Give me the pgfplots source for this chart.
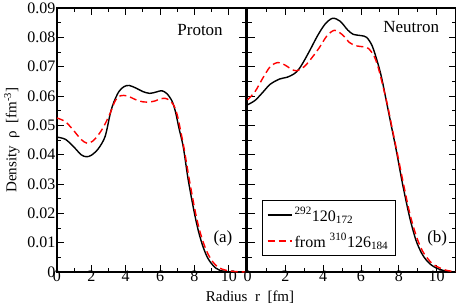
\documentclass[border=0pt]{standalone}
\usepackage{fontspec}
\setmainfont{Liberation Serif}
\usepackage{pgfplots}
\pgfplotsset{compat=1.18}
\begin{document}
\begin{tikzpicture}
\pgfplotsset{
  dens/.style={
    scale only axis, height=264pt,
    xmin=0, xmax=11, ymin=0, ymax=0.09,
    xtick={0,2,4,6,8,10}, minor x tick num=1,
    ytick={0,0.01,0.02,0.03,0.04,0.05,0.06,0.07,0.08,0.09},
    minor y tick num=1,
    tick align=inside, major tick length=7pt, minor tick length=4pt,
    axis line style={line width=1.3pt},
    every tick/.style={line width=0.9pt, black},
    tick label style={font=\fontsize{16}{16}\selectfont},
    /pgf/number format/assume math mode=true,
    xticklabel style={yshift=2pt, inner sep=1pt},
    yticklabel style={inner xsep=1.5pt, inner ysep=0pt},
    clip=false,
  },
  blk/.style={black, line width=1.4pt, smooth},
  rd/.style={red, line width=1.4pt, smooth, dash pattern=on 7pt off 4pt},
}
\begin{axis}[dens, at={(57pt,34pt)}, anchor=south west, width=189pt,
  yticklabels={0,0.01,0.02,0.03,0.04,0.05,0.06,0.07,0.08,0.09}]
\addplot[blk] coordinates {(0,0.0460)(0.5,0.0452)(1.0,0.0425)(1.4,0.0400)(1.7,0.0393)(2.0,0.0398)(2.4,0.0420)(2.8,0.0462)(3.1,0.0540)(3.3,0.0578)(3.6,0.0615)(3.9,0.0632)(4.2,0.0636)(4.6,0.0627)(5.0,0.0615)(5.4,0.0609)(5.8,0.0614)(6.1,0.0618)(6.4,0.0608)(6.7,0.0582)(6.9,0.0545)(7.1,0.0490)(7.35,0.0426)(7.64,0.0313)(8.0,0.0200)(8.25,0.0135)(8.5,0.0086)(8.75,0.0050)(9.0,0.0028)(9.25,0.0013)(9.5,0.0005)(10,0.0001)(10.5,0)(11,0)};
\addplot[rd] coordinates {(0,0.0525)(0.5,0.0512)(1.0,0.0480)(1.4,0.0452)(1.75,0.0439)(2.1,0.0447)(2.5,0.0475)(2.8,0.0505)(3.1,0.0542)(3.4,0.0585)(3.7,0.0601)(4.1,0.0600)(4.6,0.0587)(5.0,0.0580)(5.3,0.0579)(5.7,0.0583)(6.0,0.0590)(6.3,0.0592)(6.55,0.0585)(6.8,0.0568)(7.0,0.0535)(7.2,0.0480)(7.4,0.0420)(7.7,0.0315)(8.05,0.0205)(8.3,0.0142)(8.55,0.0095)(8.8,0.0060)(9.05,0.0036)(9.3,0.0020)(9.6,0.0010)(10,0.0004)(10.5,0.0001)(11,0)};
\node[font=\fontsize{17}{17}\selectfont] at (rel axis cs:0.757,0.917) {Proton};
\node[font=\fontsize{17}{17}\selectfont] at (rel axis cs:0.878,0.128) {(a)};
\end{axis}
\begin{axis}[dens, at={(247.5pt,34pt)}, anchor=south west, width=208pt,
  yticklabels={},
  legend style={at={(rel axis cs:0.068,0.06)}, anchor=south west,
    draw=black, line width=0.8pt, font=\fontsize{16}{18}\selectfont,
    inner xsep=5pt, inner ysep=5pt, row sep=7pt},
  legend cell align=left,
  legend image code/.code={\draw[#1] (0cm,0cm) -- (0.85cm,0cm);}]
\addplot[blk] coordinates {(0,0.0570)(0.4,0.0585)(0.8,0.0612)(1.2,0.0640)(1.7,0.0658)(2.1,0.0664)(2.45,0.0675)(2.7,0.0690)(2.95,0.0715)(3.3,0.0756)(3.7,0.0805)(4.1,0.0845)(4.5,0.0865)(4.9,0.0855)(5.3,0.0825)(5.6,0.0810)(6.0,0.0806)(6.3,0.0800)(6.6,0.0770)(6.9,0.0710)(7.1,0.0660)(7.34,0.0584)(7.6,0.0500)(7.87,0.0414)(8.2,0.0300)(8.57,0.0188)(8.9,0.0110)(9.2,0.0065)(9.45,0.0041)(9.7,0.0025)(10,0.0013)(10.5,0.0003)(11,0)};
\addlegendentry{\textsuperscript{292}120\textsubscript{172}}
\addplot[rd] coordinates {(0,0.0587)(0.4,0.0615)(0.8,0.0660)(1.2,0.0700)(1.6,0.0714)(2.0,0.0705)(2.3,0.0692)(2.6,0.0686)(3.0,0.0700)(3.4,0.0730)(3.8,0.0765)(4.2,0.0805)(4.6,0.0824)(5.0,0.0810)(5.4,0.0782)(5.75,0.0771)(6.1,0.0768)(6.4,0.0762)(6.7,0.0735)(6.9,0.0700)(7.1,0.0650)(7.4,0.0570)(7.65,0.0490)(7.9,0.0412)(8.25,0.0300)(8.6,0.0195)(8.95,0.0118)(9.25,0.0072)(9.5,0.0048)(9.75,0.0030)(10,0.0019)(10.5,0.0006)(11,0.0001)};
\addlegendentry{from \textsuperscript{310}126\textsubscript{184}}
\node[font=\fontsize{17}{17}\selectfont] at (rel axis cs:0.787,0.928) {Neutron};
\node[font=\fontsize{17}{17}\selectfont] at (rel axis cs:0.912,0.128) {(b)};
\end{axis}
\node[rotate=90, font=\fontsize{15}{15}\selectfont] at (12pt,166pt) {Density\ \ ρ\ \ [fm\textsuperscript{-3}]};
\node[font=\fontsize{15}{15}\selectfont] at (250pt,9pt) {Radius\ \ r\ \ [fm]};
\pgfresetboundingbox
\useasboundingbox (0,0) rectangle (458pt,306pt);
\end{tikzpicture}
\end{document}
